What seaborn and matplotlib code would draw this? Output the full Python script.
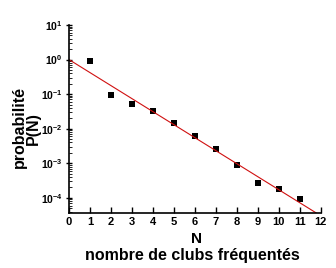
import numpy as np
import pandas as pd
import matplotlib
matplotlib.use("Agg")
import matplotlib.pyplot as plt
import seaborn as sns
from matplotlib.ticker import LogLocator, FixedLocator

N = [1, 2, 3, 4, 5, 6, 7, 8, 9, 10, 11]
P = [0.9, 0.095, 0.053, 0.032, 0.015, 0.006, 0.0025, 0.00091, 0.00026, 0.00018, 0.000092]
fit_N = [0, 12]
fit_P = [1.0, 10 ** -4.52]
x_ticks = list(range(0, 13))

sns.set_theme(style="white")
plt.rcParams['font.family'] = ['Liberation Sans', 'DejaVu Sans']
plt.rcParams['font.weight'] = 'bold'
plt.rcParams['text.color'] = 'black'
plt.rcParams['xtick.color'] = 'black'
plt.rcParams['ytick.color'] = 'black'
plt.rcParams['mathtext.fontset'] = 'custom'
plt.rcParams['mathtext.rm'] = 'Liberation Sans:bold'
plt.rcParams['mathtext.bf'] = 'Liberation Sans:bold'
plt.rcParams['mathtext.default'] = 'bf'

fig = plt.figure(figsize=(3.36, 2.68), dpi=100)
ax = fig.add_axes([0.205, 0.205, 0.75, 0.702])

df = pd.DataFrame({"N": N, "P": P})
fit = pd.DataFrame({"N": fit_N, "P": fit_P})
sns.lineplot(data=fit, x="N", y="P", ax=ax, color="#d01010", linewidth=0.8)
sns.scatterplot(data=df, x="N", y="P", ax=ax, marker="s", color="black", s=18, linewidth=0)

ax.set_yscale("log")
ax.set_xlim(0, 12)
ax.set_ylim(10 ** -4.44, 10)
ax.xaxis.set_major_locator(FixedLocator(x_ticks))
ax.yaxis.set_major_locator(LogLocator(base=10, numticks=10))
ax.yaxis.set_minor_locator(LogLocator(base=10, subs=np.arange(2, 10), numticks=20))

for s in ["top", "right"]:
    ax.spines[s].set_visible(False)
for s in ["left", "bottom"]:
    ax.spines[s].set_color("black")
    ax.spines[s].set_linewidth(1.2)

ax.tick_params(axis="x", which="major", direction="in", length=4, width=1, labelsize=8, pad=3, bottom=True)
ax.tick_params(axis="y", which="major", direction="inout", length=5, width=1, labelsize=7.5, pad=2, left=True)
ax.tick_params(axis="y", which="minor", direction="in", length=2.5, width=0.6, left=True)

ax.set_xlabel("")
ax.set_ylabel("")
fig.text(0.586, 0.108, "N", ha="center", va="center", fontsize=11, fontweight="bold")
fig.text(0.573, 0.045, "nombre de clubs fréquentés", ha="center", va="center", fontsize=11.5, fontweight="bold")
fig.text(0.057, 0.525, "probabilité", ha="center", va="center", rotation=90, fontsize=11.5, fontweight="bold")
fig.text(0.10, 0.522, "P(N)", ha="center", va="center", rotation=90, fontsize=11.5, fontweight="bold")

fig.savefig("out.png", dpi=100)
